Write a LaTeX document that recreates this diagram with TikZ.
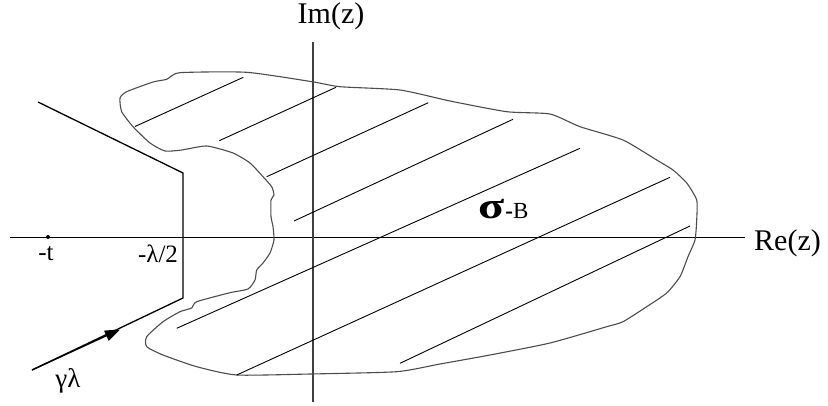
\documentclass[tikz,border=0pt]{standalone}
\usepackage{fontspec}
\setmainfont{Liberation Serif}
\usetikzlibrary{arrows.meta}
\tikzset{
  axis/.style={line width=1pt,black},
  vaxis/.style={line width=1.6pt,black!75},
  contour/.style={line width=1.3pt,black},
  outline/.style={line width=1.1pt,black!70},
  hatch/.style={line width=0.9pt,black},
  lbl/.style={inner sep=0pt,font=\fontsize{30}{33}\selectfont},
  tick/.style={inner sep=0pt,font=\fontsize{25}{28}\selectfont},
}
\begin{document}
\begin{tikzpicture}[x=1pt,y=-1pt]
\useasboundingbox (0,0) rectangle (828,405);
% axes
\coordinate (xl) at (10,237);
\coordinate (xr) at (745,237);
\coordinate (yt) at (313,42);
\coordinate (yb) at (313,402);
\draw[axis] (xl) -- (xr);
\draw[vaxis] (yt) -- (yb);
\node[lbl] (im) at (331,16) {Im(z)};
\node[lbl,anchor=west] (re) at (754,243) {Re(z)};
% blob
\draw[outline] plot[smooth cycle, tension=0.35] coordinates {
(180,72.7) (246.7,72.3) (312,81.7) (340,86.7) (400,90) (450,101) (506.7,111.7)
(550,114) (580,126.7) (623,140) (656.7,160) (673,170) (686.7,183) (696.7,200)
(696.7,220) (695,240) (688,256.7) (680,276.7) (666.7,293) (646.7,306.7) (623,321.7)
(606.7,326.7) (550,343) (490,355) (440,364) (396.7,371.7) (310,374) (236.7,375)
(196.7,366.7) (163,355) (146.7,346.7) (146.7,336.7) (163,321.7) (180,311.7)
(191.7,308) (196.7,301.7) (230,292.7) (248,289) (255,280) (256.7,270) (263,263)
(270,253) (274,240) (273,226.7) (271,216.7) (271,200) (274,195) (271.7,186.7)
(263,176.7) (250,163) (233,153) (206.7,146) (181.7,150) (165,151) (150,143)
(133,126.7) (121.7,111.7) (120,98) (126.7,91.7) (153,82) (166.7,79.3)};
% hatch lines
\coordinate (h1a) at (135,126.5);   \coordinate (h1b) at (243.3,77.3);
\coordinate (h2a) at (219.3,140.7); \coordinate (h2b) at (336,87.3);
\coordinate (h3a) at (266.7,176.7); \coordinate (h3b) at (428.3,102.7);
\coordinate (h4a) at (294,221);     \coordinate (h4b) at (513,119.3);
\coordinate (h5a) at (176.7,328.3); \coordinate (h5b) at (580,148.3);
\coordinate (h6a) at (236.7,375);   \coordinate (h6b) at (670,177.3);
\coordinate (h7a) at (400,363.3);   \coordinate (h7b) at (690,226);
\foreach \i in {1,...,7} \draw[hatch] (h\i a) -- (h\i b);
% contour gamma_lambda
\coordinate (c0) at (38,102);
\coordinate (c1) at (183,173);
\coordinate (c2) at (183,298);
\coordinate (c3) at (32,370);
\coordinate (carr) at (120,329.5);
\draw[contour] (c0) -- (c1) -- (c2) -- (c3);
\draw[contour,-{Triangle[length=15pt,width=11pt]}] (c3) -- (carr);
% points and labels
\coordinate (mt) at (48,237);
\fill (mt) circle (2pt);
\node[tick] (lt) at (46,254) {-t};
\node[tick] (ll) at (158,254) {-λ/2};
\node[tick,font=\fontsize{27}{30}\selectfont] (lg) at (68,381) {γλ};
\node[inner sep=0pt,anchor=base west] (sig) at (478,218) {\fontsize{37}{40}\selectfont\scalebox{1.3}[1]{\bfseries σ}\fontsize{23}{25}\selectfont\kern1pt\textbf{-}B};
\end{tikzpicture}
\end{document}
